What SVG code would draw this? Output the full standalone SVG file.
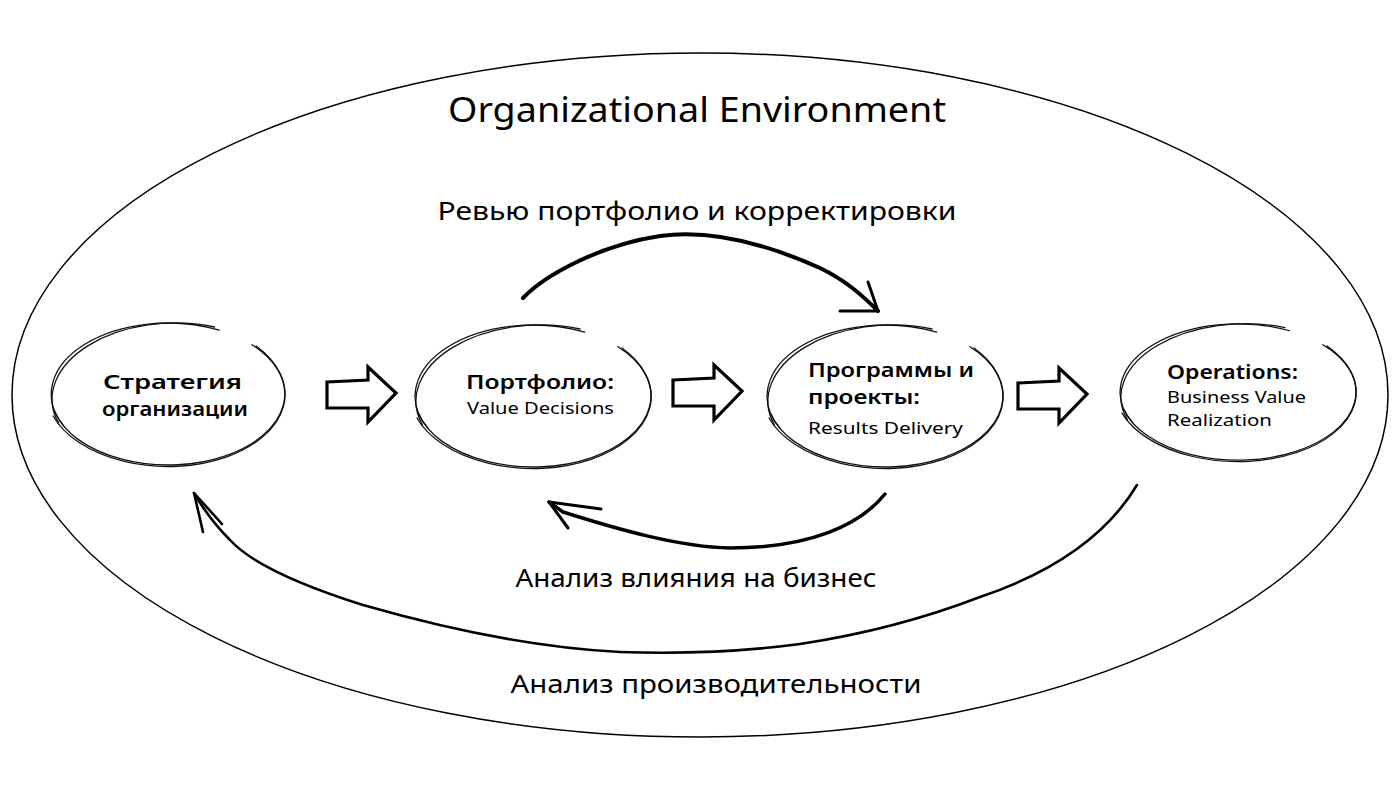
<svg xmlns="http://www.w3.org/2000/svg" xmlns:xlink="http://www.w3.org/1999/xlink" width="1400" height="788" viewBox="0 0 1400 788">
<style>
text{font-family:"Noto Sans","Open Sans","DejaVu Sans",sans-serif;fill:#000}
.title{font-size:35px}
.lbl{font-size:26px}
.hd{font-size:19px;font-weight:600}
.sub{font-size:17px}
.sk{fill:none;stroke:#111;stroke-width:1.3;stroke-linecap:round}
.blk{fill:#fff;stroke:#000;stroke-width:3.2;stroke-linejoin:miter}
.arc{fill:none;stroke:#000;stroke-linecap:round;stroke-linejoin:round}
</style>
<defs>
<g id="sketch">
<path class="sk" d="M-105.1,32.2 A118,71 0 0 1 51.7,-63.8"/>
<path class="sk" d="M-110.5,29 A120.5,73.5 -2 0 1 47,-67"/>
<path class="sk" d="M84.9,-49.3 A118,71 0 1 1 -114,18.4"/>
<path class="sk" d="M89,-48 A120.5,73.5 1 1 1 -116,22"/>
</g>
<path id="blockarrow" class="blk" d="M0,-11 L41,-13 L41,-26 L69,0 L41,29 L41,15 L0,15 Z"/>
</defs>
<rect width="1400" height="788" fill="#fff"/>
<g id="environment">
<ellipse cx="700" cy="395" rx="688" ry="342" fill="none" stroke="#000" stroke-width="1.5"/>
<text class="title" x="697" y="122" text-anchor="middle" textLength="498" lengthAdjust="spacingAndGlyphs">Organizational Environment</text>
</g>
<g id="node-strategy">
<use xlink:href="#sketch" transform="translate(168,394) scale(0.99,1)"/>
<text class="hd" x="103" y="389" textLength="139" lengthAdjust="spacingAndGlyphs">Стратегия</text>
<text class="hd" x="102" y="416" textLength="146" lengthAdjust="spacingAndGlyphs">организации</text>
</g>
<g id="node-portfolio">
<use xlink:href="#sketch" transform="translate(533,396)"/>
<text class="hd" x="466" y="389" textLength="148" lengthAdjust="spacingAndGlyphs">Портфолио:</text>
<text class="sub" x="467" y="414" textLength="147" lengthAdjust="spacingAndGlyphs">Value Decisions</text>
</g>
<g id="node-programs">
<use xlink:href="#sketch" transform="translate(885,396)"/>
<text class="hd" x="808" y="377" textLength="166" lengthAdjust="spacingAndGlyphs">Программы и</text>
<text class="hd" x="808" y="404" textLength="112" lengthAdjust="spacingAndGlyphs">проекты:</text>
<text class="sub" x="808" y="434" textLength="155" lengthAdjust="spacingAndGlyphs">Results Delivery</text>
</g>
<g id="node-operations">
<use xlink:href="#sketch" transform="translate(1238,392) scale(1,0.96)"/>
<text class="hd" x="1167" y="379" textLength="131" lengthAdjust="spacingAndGlyphs">Operations:</text>
<text class="sub" x="1167" y="403" textLength="139" lengthAdjust="spacingAndGlyphs">Business Value</text>
<text class="sub" x="1167" y="426" textLength="105" lengthAdjust="spacingAndGlyphs">Realization</text>
</g>
<g id="connectors">
<use xlink:href="#blockarrow" transform="translate(327,393)"/>
<use xlink:href="#blockarrow" transform="translate(673,391)"/>
<use xlink:href="#blockarrow" transform="translate(1018,394)"/>
<path class="arc" stroke-width="4" d="M523,298 C545,275 600,245 660,236 C720,228 780,250 820,268 C845,280 862,295 878,311"/>
<path class="arc" stroke-width="3" d="M868,282 L878,311 L840,311"/>
<path class="arc" stroke-width="3.5" d="M885,494 C860,525 810,548 730,548 C680,547 620,530 563,512 L549,502"/>
<path class="arc" stroke-width="3" d="M601,509 L549,502 L568,528"/>
<path class="arc" stroke-width="2.6" d="M1137,485 C1110,530 1060,570 980,597 C920,620 860,635 800,644 C740,652 680,654 620,652 C540,648 450,630 363,605 C300,585 250,562 230,540 C215,525 205,512 194,493"/>
<path class="arc" stroke-width="2.6" d="M203,532 L194,493 L222,524"/>
</g>
<g id="labels">
<text class="lbl" x="697" y="220" text-anchor="middle" textLength="519" lengthAdjust="spacingAndGlyphs">Ревью портфолио и корректировки</text>
<text class="lbl" x="696" y="587" text-anchor="middle" textLength="361" lengthAdjust="spacingAndGlyphs">Анализ влияния на бизнес</text>
<text class="lbl" x="716" y="693" text-anchor="middle" textLength="411" lengthAdjust="spacingAndGlyphs">Анализ производительности</text>
</g>
</svg>
